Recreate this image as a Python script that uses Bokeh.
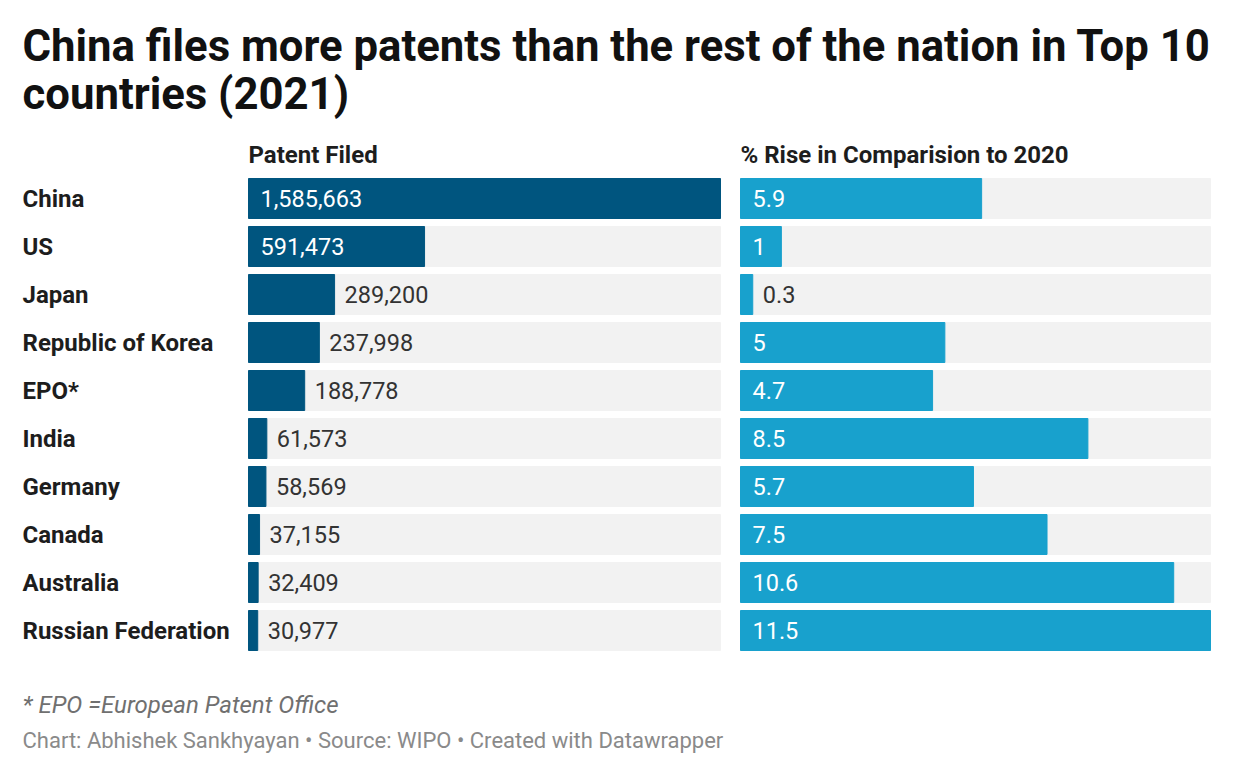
from bokeh.plotting import figure
from bokeh.models import Range1d, ColumnDataSource
from bokeh.core.properties import value
from bokeh.embed import file_html
from bokeh.resources import INLINE

countries = ["China", "US", "Japan", "Republic of Korea", "EPO*", "India",
             "Germany", "Canada", "Australia", "Russian Federation"]
patents = [1585663, 591473, 289200, 237998, 188778, 61573, 58569, 37155, 32409, 30977]
rise_pct = [5.9, 1, 0.3, 5, 4.7, 8.5, 5.7, 7.5, 10.6, 11.5]

title_lines = ["China files more patents than the rest of the nation in Top 10",
               "countries (2021)"]
header_left = "Patent Filed"
header_right = "% Rise in Comparision to 2020"
footnote = "* EPO =European Patent Office"
credit = "Chart: Abhishek Sankhyayan \u2022 Source: WIPO \u2022 Created with Datawrapper"

W, H = 1224, 766
FONT = value("Roboto")
DARK = "#00557f"
LIGHT = "#18a1cd"
BG = "#f2f2f2"
TXT = "#1d1d1d"

p = figure(width=W, height=H, output_backend="svg", toolbar_location=None,
           x_range=Range1d(0, W), y_range=Range1d(H, 0),
           min_border=0, outline_line_color=None, background_fill_color="white",
           border_fill_color="white")
p.axis.visible = False
p.grid.visible = False

# layout (pixels in figure space)
L0, L1 = 248, 720      # left panel
R0, R1 = 740, 1210     # right panel
ROW0, STEP, BAR_H = 198, 48, 40
LX = 22

pmax = max(patents)
rmax = max(rise_pct)
sl = (L1 - L0) / pmax
sr = (R1 - R0) / rmax
p.extra_x_ranges = {
    "pat": Range1d(-L0 / sl, (W - L0) / sl),
    "pct": Range1d(-R0 / sr, (W - R0) / sr),
}
p.extra_y_ranges = {"row": Range1d((H - ROW0) / STEP, -ROW0 / STEP)}

idx = list(range(len(countries)))
hb = BAR_H / STEP

left_inside = [v / pmax > 0.3 for v in patents]
right_inside = [v / rmax > 0.05 for v in rise_pct]

src = ColumnDataSource(dict(
    y=idx, country=countries, pat=patents, pct=rise_pct,
    pmax=[pmax] * len(idx), rmax=[rmax] * len(idx),
    pat_lbl=[f"{v:,}" for v in patents],
    pct_lbl=[f"{v:g}" for v in rise_pct],
    pat_x=[0 if ins else v for v, ins in zip(patents, left_inside)],
    pat_off=[12 if ins else 10 for ins in left_inside],
    pat_col=["white" if ins else "#333333" for ins in left_inside],
    pct_x=[0 if ins else v for v, ins in zip(rise_pct, right_inside)],
    pct_off=[12 if ins else 10 for ins in right_inside],
    pct_col=["white" if ins else "#333333" for ins in right_inside],
    lab_x=[LX] * len(idx),
))

# backgrounds
p.hbar(y="y", left=0, right="pmax", height=hb, source=src, color=BG,
       x_range_name="pat", y_range_name="row")
p.hbar(y="y", left=0, right="rmax", height=hb, source=src, color=BG,
       x_range_name="pct", y_range_name="row")
# bars
p.hbar(y="y", left=0, right="pat", height=hb, source=src, color=DARK,
       x_range_name="pat", y_range_name="row")
p.hbar(y="y", left=0, right="pct", height=hb, source=src, color=LIGHT,
       x_range_name="pct", y_range_name="row")

# value labels
p.text(x="pat_x", y="y", text="pat_lbl", x_offset="pat_off", source=src,
       text_color="pat_col", text_font=FONT, text_font_size="23.5px",
       text_baseline="middle", x_range_name="pat", y_range_name="row")
p.text(x="pct_x", y="y", text="pct_lbl", x_offset="pct_off", source=src,
       text_color="pct_col", text_font=FONT, text_font_size="23.5px",
       text_baseline="middle", x_range_name="pct", y_range_name="row")

# country labels
p.text(x="lab_x", y="y", text="country", source=src, text_color=TXT,
       text_font=FONT, text_font_style="bold", text_font_size="24px",
       text_baseline="middle", y_range_name="row")


def put(x, y, t, size, color, style="normal"):
    p.text(x=[x], y=[y], text=[t], text_font=FONT, text_font_size=size,
           text_font_style=style, text_color=color, text_baseline="middle")


# title
put(LX, 45.7, title_lines[0], "43.7px", "#111111", "bold")
put(LX, 93.7, title_lines[1], "43.7px", "#111111", "bold")

# headers
put(L0, 154.6, header_left, "24px", TXT, "bold")
put(R0, 154.6, header_right, "24px", TXT, "bold")

# notes
put(LX, 704.6, footnote, "24px", "#707070", "italic")
put(LX, 740.3, credit, "22px", "#8a8a8a")

open("out.html", "w").write(file_html(p, INLINE))
